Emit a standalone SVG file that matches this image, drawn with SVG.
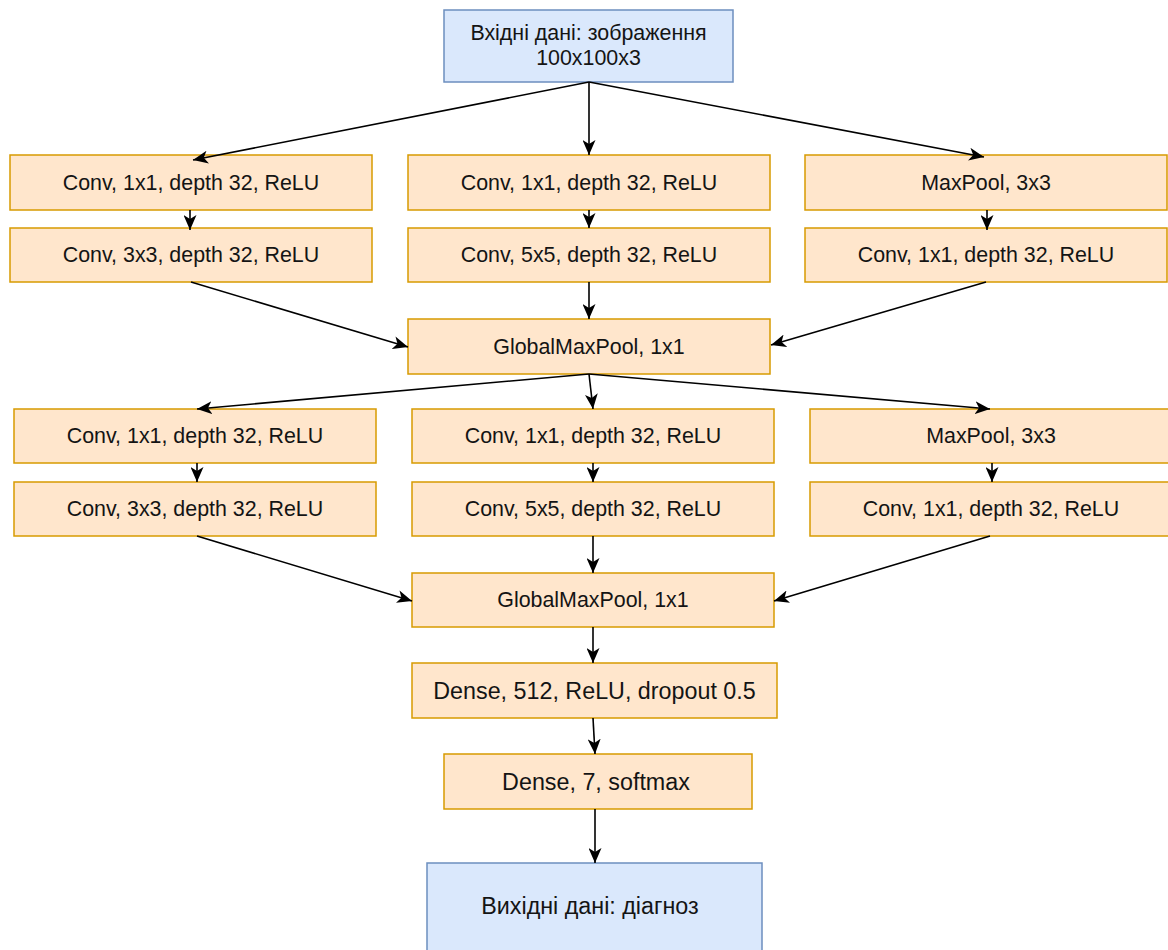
<svg xmlns="http://www.w3.org/2000/svg" width="1168" height="950" viewBox="0 0 1168 950">
  <defs>
    <marker id="arrow" viewBox="0 0 15 13" refX="15" refY="6.5" markerWidth="15" markerHeight="13" markerUnits="userSpaceOnUse" orient="auto">
      <path d="M0,0 L15,6.5 L0,13 L4,6.5 Z" fill="#000"/>
    </marker>
    <style>
      .layer { fill: #ffe6cc; stroke: #d79b00; stroke-width: 1.5; }
      .io { fill: #dae8fc; stroke: #6c8ebf; stroke-width: 1.5; }
      text { font-family: "Liberation Sans", Arial, sans-serif; font-size: 21.4px; fill: #141414; text-anchor: middle; dominant-baseline: central; }
      text.big { font-size: 23.3px; }
      .edge { stroke: #000; stroke-width: 1.6; fill: none; marker-end: url(#arrow); }
    </style>
  </defs>
  <rect width="1168" height="950" fill="#fff"/>

  <!-- input -->
  <g id="input">
    <rect class="io" x="444" y="10" width="289" height="72"/>
    <text x="588.5" y="33">Вхідні дані: зображення</text>
    <text x="588.5" y="58">100x100x3</text>
  </g>

  <!-- inception block 1 -->
  <g id="b1-conv1x1-a">
    <rect class="layer" x="10" y="155" width="362" height="55"/>
    <text x="191" y="182.5">Conv, 1x1, depth 32, ReLU</text>
  </g>
  <g id="b1-conv1x1-b">
    <rect class="layer" x="408" y="155" width="362" height="55"/>
    <text x="589" y="182.5">Conv, 1x1, depth 32, ReLU</text>
  </g>
  <g id="b1-maxpool">
    <rect class="layer" x="805" y="155" width="362" height="55"/>
    <text x="986" y="182.5">MaxPool, 3x3</text>
  </g>
  <g id="b1-conv3x3">
    <rect class="layer" x="10" y="228" width="362" height="54"/>
    <text x="191" y="255">Conv, 3x3, depth 32, ReLU</text>
  </g>
  <g id="b1-conv5x5">
    <rect class="layer" x="408" y="228" width="362" height="54"/>
    <text x="589" y="255">Conv, 5x5, depth 32, ReLU</text>
  </g>
  <g id="b1-conv1x1-c">
    <rect class="layer" x="805" y="228" width="362" height="54"/>
    <text x="986" y="255">Conv, 1x1, depth 32, ReLU</text>
  </g>
  <g id="b1-gmp">
    <rect class="layer" x="408" y="319" width="362" height="55"/>
    <text x="589" y="346.5">GlobalMaxPool, 1x1</text>
  </g>

  <!-- inception block 2 -->
  <g id="b2-conv1x1-a">
    <rect class="layer" x="14" y="409" width="362" height="54"/>
    <text x="195" y="436">Conv, 1x1, depth 32, ReLU</text>
  </g>
  <g id="b2-conv1x1-b">
    <rect class="layer" x="412" y="409" width="362" height="54"/>
    <text x="593" y="436">Conv, 1x1, depth 32, ReLU</text>
  </g>
  <g id="b2-maxpool">
    <rect class="layer" x="810" y="409" width="362" height="54"/>
    <text x="991" y="436">MaxPool, 3x3</text>
  </g>
  <g id="b2-conv3x3">
    <rect class="layer" x="14" y="482" width="362" height="54"/>
    <text x="195" y="509">Conv, 3x3, depth 32, ReLU</text>
  </g>
  <g id="b2-conv5x5">
    <rect class="layer" x="412" y="482" width="362" height="54"/>
    <text x="593" y="509">Conv, 5x5, depth 32, ReLU</text>
  </g>
  <g id="b2-conv1x1-c">
    <rect class="layer" x="810" y="482" width="362" height="54"/>
    <text x="991" y="509">Conv, 1x1, depth 32, ReLU</text>
  </g>
  <g id="b2-gmp">
    <rect class="layer" x="412" y="573" width="362" height="54"/>
    <text x="593" y="600">GlobalMaxPool, 1x1</text>
  </g>

  <!-- head -->
  <g id="dense512">
    <rect class="layer" x="412" y="663" width="365" height="55"/>
    <text class="big" x="594.5" y="690.5">Dense, 512, ReLU, dropout 0.5</text>
  </g>
  <g id="dense7">
    <rect class="layer" x="444" y="754" width="308" height="55"/>
    <text class="big" x="596" y="781.5">Dense, 7, softmax</text>
  </g>
  <g id="output">
    <rect class="io" x="427" y="863" width="335" height="95"/>
    <text class="big" x="590" y="906">Вихідні дані: діагноз</text>
  </g>

  <!-- connectors -->
  <g id="edges">
    <line class="edge" x1="589" y1="82" x2="193" y2="160"/>
    <line class="edge" x1="589" y1="82" x2="589" y2="155"/>
    <line class="edge" x1="589" y1="82" x2="984" y2="157"/>

    <line class="edge" x1="190" y1="210" x2="190" y2="230"/>
    <line class="edge" x1="589" y1="210" x2="589" y2="228"/>
    <line class="edge" x1="987" y1="210" x2="987" y2="230"/>

    <line class="edge" x1="191" y1="282" x2="408" y2="347"/>
    <line class="edge" x1="589" y1="282" x2="589" y2="319"/>
    <line class="edge" x1="986" y1="282" x2="771" y2="345"/>

    <line class="edge" x1="589" y1="374" x2="197" y2="409"/>
    <line class="edge" x1="589" y1="374" x2="593" y2="409"/>
    <line class="edge" x1="589" y1="374" x2="990" y2="409"/>

    <line class="edge" x1="197" y1="463" x2="197" y2="482"/>
    <line class="edge" x1="593" y1="463" x2="593" y2="482"/>
    <line class="edge" x1="992" y1="463" x2="992" y2="482"/>

    <line class="edge" x1="197" y1="536" x2="412" y2="601"/>
    <line class="edge" x1="593" y1="536" x2="593" y2="573"/>
    <line class="edge" x1="990" y1="536" x2="774" y2="601"/>

    <line class="edge" x1="593" y1="627" x2="593" y2="663"/>
    <line class="edge" x1="593" y1="718" x2="595" y2="754"/>
    <line class="edge" x1="595" y1="809" x2="595" y2="863"/>
  </g>
</svg>
